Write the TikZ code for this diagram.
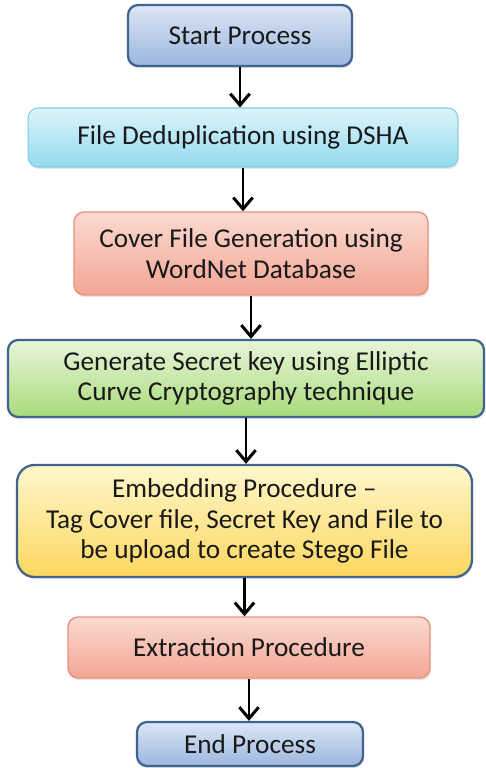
\documentclass[tikz,border=0pt]{standalone}
\usepackage{fontspec}
\setmainfont{Carlito}
\usepackage{tikz}
\usetikzlibrary{positioning,shapes,shadows}
\usetikzlibrary{arrows.meta}
\usepackage{xcolor}
\definecolor{edgeblue}{HTML}{41648F}
\definecolor{bluetop}{HTML}{DCE6F5}
\definecolor{bluebot}{HTML}{9BB6DE}
\definecolor{cyantop}{HTML}{DDF4FB}
\definecolor{cyanbot}{HTML}{92DAF0}
\definecolor{cyanedge}{HTML}{7FCDE6}
\definecolor{salmontop}{HTML}{FBDAD1}
\definecolor{salmonbot}{HTML}{F3A594}
\definecolor{salmonedge}{HTML}{E9937E}
\definecolor{greentop}{HTML}{E8F5DA}
\definecolor{greenbot}{HTML}{A9DB7A}
\definecolor{yellowtop}{HTML}{FFF7CD}
\definecolor{yellowbot}{HTML}{FCD75E}

\begin{document}
\begin{tikzpicture}[x=0.02cm,y=-0.02cm,
                    box/.style={draw, rounded corners=0.2cm, align=center, inner sep=0pt,
                                font=\fontsize{15.5}{17.5}\selectfont, text=black!90,
                                drop shadow={opacity=0.2, shadow xshift=0.6pt, shadow yshift=-1.2pt}},
                    bluebox/.style={box, draw=edgeblue, line width=1.3pt, top color=bluetop, bottom color=bluebot},
                    cyanbox/.style={box, draw=cyanedge, line width=0.6pt, top color=cyantop, bottom color=cyanbot},
                    salmonbox/.style={box, draw=salmonedge, line width=0.8pt, top color=salmontop, bottom color=salmonbot},
                    greenbox/.style={box, draw=edgeblue, line width=1.3pt, top color=greentop, bottom color=greenbot},
                    yellowbox/.style={box, draw=edgeblue, line width=1.3pt, top color=yellowtop, bottom color=yellowbot, rounded corners=0.35cm},
                    arr/.style={line width=1.7pt, -{Straight Barb[length=6.5pt,width=11pt,line width=1.7pt]}}]
    \useasboundingbox (0,0) rectangle (486,768);

    \node[bluebox, minimum width=4.48cm, minimum height=1.22cm] (start) at (240,35.5) {Start Process};
    \node[cyanbox, minimum width=8.6cm, minimum height=1.18cm] (dsha) at (243,137.5) {File Deduplication using DSHA};
    \node[salmonbox, minimum width=7.08cm, minimum height=1.66cm] (cover) at (251,253.5) {Cover File Generation using\\WordNet Database};
    \node[greenbox, minimum width=9.52cm, minimum height=1.54cm] (secret) at (246,378.5) {Generate Secret key using Elliptic\\Curve Cryptography technique};
    \node[yellowbox, minimum width=9.1cm, minimum height=2.24cm] (embed) at (244.5,521) {Embedding Procedure --\\Tag Cover file, Secret Key and File to\\be upload to create Stego File};
    \node[salmonbox, minimum width=7.24cm, minimum height=1.22cm] (extract) at (249,647.5) {Extraction Procedure};
    \node[bluebox, minimum width=4.52cm, minimum height=0.88cm] (finish) at (250,744) {End Process};

    % connectors
    \draw[arr] (start.south) -- (start.south |- dsha.north);
    \draw[arr] (dsha.south) -- (dsha.south |- cover.north);
    \draw[arr] (cover.south) -- (cover.south |- secret.north);
    \draw[arr] (secret.south) -- (secret.south |- embed.north);
    \draw[arr] (embed.south) -- (embed.south |- extract.north);
    \draw[arr] (extract.south) -- (extract.south |- finish.north);
\end{tikzpicture}
\end{document}
